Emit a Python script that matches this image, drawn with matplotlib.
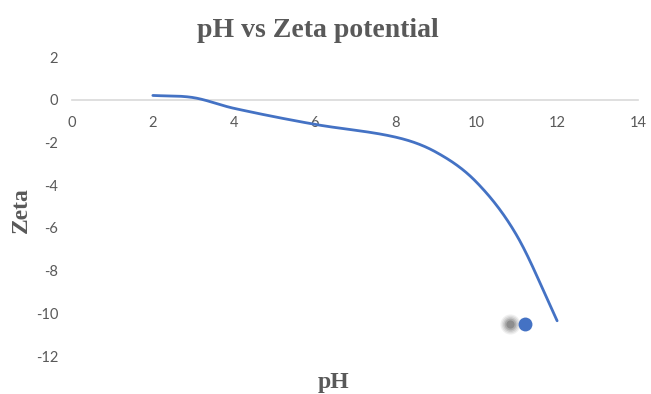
import numpy as np
import matplotlib.pyplot as plt
from matplotlib.transforms import offset_copy

plt.rcParams["axes.unicode_minus"] = False

# measured zeta potential at each pH
ph = [2, 3, 4, 6, 8, 9, 10, 11, 12]
zeta = [0.2, 0.1, -0.4, -1.15, -1.75, -2.45, -3.85, -6.35, -10.35]

# single highlighted reading
highlight_ph = [11.2]
highlight_zeta = [-10.5]

x_ticks = [0, 2, 4, 6, 8, 10, 12, 14]
y_ticks = [2, 0, -2, -4, -6, -8, -10, -12]

BLUE = "#4472C4"
GREY = "#595959"


def smooth_curve(xs, ys, steps=60):
    """Cubic Hermite through every point with centred-difference slopes."""
    xs = np.asarray(xs, float)
    ys = np.asarray(ys, float)
    n = len(xs)
    m = np.empty(n)
    m[0] = (ys[1] - ys[0]) / (xs[1] - xs[0])
    m[-1] = (ys[-1] - ys[-2]) / (xs[-1] - xs[-2])
    m[1:-1] = (ys[2:] - ys[:-2]) / (xs[2:] - xs[:-2])
    px, py = [], []
    for i in range(n - 1):
        h = xs[i + 1] - xs[i]
        t = np.linspace(0, 1, steps)
        if i > 0:
            t = t[1:]
        h00 = 2 * t**3 - 3 * t**2 + 1
        h10 = t**3 - 2 * t**2 + t
        h01 = -2 * t**3 + 3 * t**2
        h11 = t**3 - t**2
        px.append(xs[i] + t * h)
        py.append(h00 * ys[i] + h10 * h * m[i] + h01 * ys[i + 1] + h11 * h * m[i + 1])
    return np.concatenate(px), np.concatenate(py)


fig = plt.figure(figsize=(6.51, 3.94), dpi=100)
ax = fig.add_axes([0.1106, 0.0964, 0.8694, 0.7589])

sx, sy = smooth_curve(ph, zeta)
ax.plot(sx, sy, color=BLUE, lw=2.0, solid_capstyle="round", zorder=3)

# soft drop shadow to the left of the highlighted marker
shadow = offset_copy(ax.transData, fig=fig, x=-15, y=0, units="dots")
for size, alpha in [(210, 0.07), (160, 0.09), (110, 0.13), (70, 0.18), (35, 0.25)]:
    ax.scatter(highlight_ph, highlight_zeta, s=size, color="#333333",
               alpha=alpha, lw=0, transform=shadow, zorder=2)
ax.scatter(highlight_ph, highlight_zeta, s=100, color=BLUE, lw=0, zorder=4)

ax.set_xlim(0, 14)
ax.set_ylim(-12, 2)
ax.set_xticks(x_ticks)
ax.set_yticks(y_ticks)

for side in ["top", "right", "left"]:
    ax.spines[side].set_visible(False)
ax.spines["bottom"].set_position(("data", 0))
ax.spines["bottom"].set_color("#D9D9D9")
ax.spines["bottom"].set_linewidth(1.2)

ax.tick_params(axis="both", length=0, labelsize=10.5, labelcolor=GREY)
ax.tick_params(axis="x", pad=12)
ax.tick_params(axis="y", pad=10)
for lab in ax.get_xticklabels() + ax.get_yticklabels():
    lab.set_family("Lato")

fig.text(0.488, 0.922, "pH vs Zeta potential", ha="center", va="center",
         family="Liberation Serif", weight="bold", fontsize=20, color=GREY)
fig.text(0.513, 0.028, "pH", ha="center", va="center",
         family="Liberation Serif", weight="bold", fontsize=17, color=GREY)
fig.text(0.033, 0.467, "Zeta", ha="center", va="center", rotation=90,
         family="Liberation Serif", weight="bold", fontsize=17, color=GREY)

fig.savefig("out.png", dpi=100)
